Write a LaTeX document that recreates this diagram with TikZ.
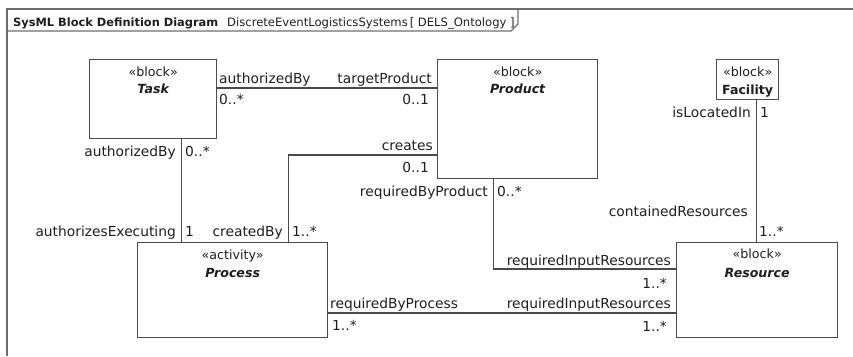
\documentclass[tikz,border=0pt]{standalone}
\usepackage{fontspec}
\setmainfont{DejaVu Sans}
\definecolor{ink}{HTML}{1E1E1E}
\definecolor{edge}{HTML}{4A4A4A}

\begin{document}
\begin{tikzpicture}[x=1pt,y=-1pt,every node/.style={text=ink,inner sep=0pt},
  blockbox/.style={draw=edge,line width=1.3pt,anchor=north west},
  stereo/.style={anchor=base,font=\fontsize{12.7}{14}\selectfont},
  bname/.style={anchor=base,font=\fontsize{12.6}{14}\selectfont\bfseries\itshape},
  role/.style={font=\fontsize{13.8}{16}\selectfont},
  assoc/.style={draw=edge,line width=1.2pt},
  frame/.style={draw=edge!80,line width=1.3pt}]
\useasboundingbox (0,0) rectangle (853,356);
% diagram frame and its header tab
\draw[frame] (7,356) -- (7,9) -- (853,9);
\draw[frame] (7,31) -- (511,31) -- (518,24) -- (518,9);
\node[anchor=base west,font=\fontsize{11.4}{14}\selectfont\bfseries] (hdr) at (13,26) {SysML Block Definition Diagram};
\node[anchor=base west,font=\fontsize{11.6}{14}\selectfont] (hdrname) at (227,26) {DiscreteEventLogisticsSystems\,[ DELS\_Ontology ]};
% blocks
\node[blockbox,minimum width=127,minimum height=79] (task) at (89,59) {};
\node[stereo] (task-s) at ([yshift=-17]task.north) {«block»};
\node[bname] (task-n) at ([yshift=-34]task.north) {Task};
\node[blockbox,minimum width=160,minimum height=119] (product) at (437,59) {};
\node[stereo] (product-s) at ([yshift=-17]product.north) {«block»};
\node[bname] (product-n) at ([yshift=-34]product.north) {Product};
\node[blockbox,minimum width=62,minimum height=40] (facility) at (716,59) {};
\node[stereo] (facility-s) at ([yshift=-17]facility.north) {«block»};
\node[bname,font=\fontsize{12.6}{14}\selectfont\bfseries] (facility-n) at ([yshift=-35]facility.north) {Facility};
\node[blockbox,minimum width=190,minimum height=95] (process) at (137,242) {};
\node[stereo] (process-s) at ([yshift=-17]process.north) {«activity»};
\node[bname] (process-n) at ([yshift=-35]process.north) {Process};
\node[blockbox,minimum width=161,minimum height=95] (resource) at (676,242) {};
\node[stereo] (resource-s) at ([yshift=-16]resource.north) {«block»};
\node[bname] (resource-n) at ([yshift=-35]resource.north) {Resource};
% associations
\draw[assoc] ([yshift=-29]task.north east) -- ([yshift=-29]product.north west);
\draw[assoc] ([xshift=28.5]task.south) -- ([xshift=28.5]task.south |- process.north);
\draw[assoc] ([yshift=-96]product.north west) -| ([xshift=56]process.north);
\draw[assoc] ([xshift=-24]product.south) |- ([yshift=-27]resource.north west);
\draw[assoc] ([xshift=9]facility.south) -- ([xshift=9]facility.south |- resource.north);
\draw[assoc] ([yshift=-71]process.north east) -- ([yshift=-71]resource.north west);
% role names and multiplicities
\foreach \x/\y/\t [count=\i] in {219/83/authorizedBy,219/104/0..*,185/156/0..*,185/236/1,
  292/236/1..*,497/196/0..*,760/117/1,759/236/1..*,330/308/requiredByProcess,332/330/1..*}
  {\node[role,anchor=base west] (w\i) at (\x,\y) {\t};}
\foreach \x/\y/\t [count=\i] in {432/83/targetProduct,429/104/0..1,176/156/authorizedBy,
  176/236/authorizesExecuting,433/150/creates,429/172/0..1,283/236/createdBy,
  488/196/requiredByProduct,671/265/requiredInputResources,667/288/1..*,751/117/isLocatedIn,
  748/216/containedResources,671/308/requiredInputResources,667/331/1..*}
  {\node[role,anchor=base east] (e\i) at (\x,\y) {\t};}
\end{tikzpicture}
\end{document}
